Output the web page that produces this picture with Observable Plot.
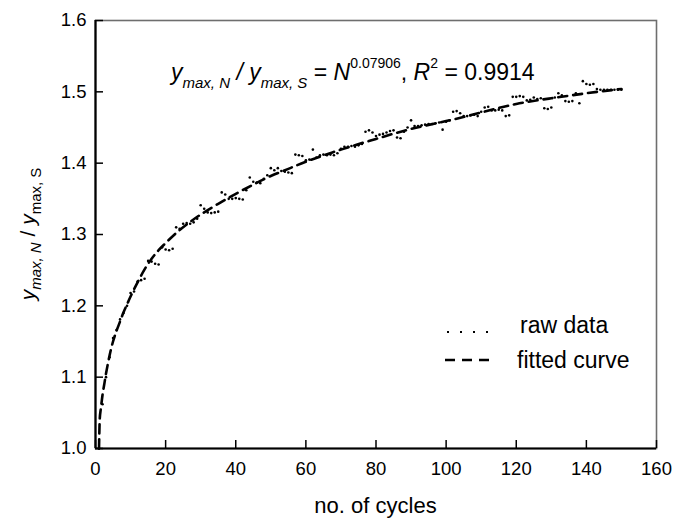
<!DOCTYPE html>
<html><head><meta charset="utf-8">
<script src="https://cdn.jsdelivr.net/npm/d3@7"></script>
<script src="https://cdn.jsdelivr.net/npm/@observablehq/plot@0.6"></script>
<style>
body{margin:0;background:#fff;font-family:Arial,"Liberation Sans",sans-serif}
</style>
</head><body><div id="chart"></div>
<script>
// ---- data ----
const rawCycles = [1,2,3,4,5,6,7,8,9,10,11,12,13,14,15,16,17,18,19,20,21,22,23,24,25,26,27,28,29,30,
31,32,33,34,35,36,37,38,39,40,41,42,43,44,45,46,47,48,49,50,51,52,53,54,55,56,57,58,59,60,
61,62,63,64,65,66,67,68,69,70,71,72,73,74,75,76,77,78,79,80,81,82,83,84,85,86,87,88,89,90,
91,92,93,94,95,96,97,98,99,100,101,102,103,104,105,106,107,108,109,110,111,112,113,114,115,116,117,118,119,120,
121,122,123,124,125,126,127,128,129,130,131,132,133,134,135,136,137,138,139,140,141,142,143,144,145,146,147,148,149,150];
const rawRatio = [1.000,1.062,1.100,1.128,1.155,1.166,1.181,1.190,1.200,1.218,1.220,1.234,1.236,1.238,1.263,1.262,1.259,1.258,1.282,1.279,
1.278,1.280,1.310,1.308,1.315,1.316,1.315,1.317,1.322,1.341,1.336,1.331,1.330,1.331,1.332,1.359,1.356,1.350,1.350,1.351,
1.350,1.349,1.362,1.380,1.374,1.373,1.372,1.378,1.383,1.393,1.390,1.393,1.389,1.388,1.387,1.386,1.412,1.411,1.410,1.404,
1.405,1.419,1.408,1.411,1.412,1.411,1.412,1.411,1.414,1.420,1.423,1.423,1.424,1.423,1.425,1.427,1.444,1.446,1.443,1.438,
1.440,1.441,1.443,1.445,1.446,1.436,1.435,1.444,1.450,1.460,1.452,1.452,1.453,1.454,1.455,1.455,1.456,1.457,1.447,1.458,
1.460,1.472,1.473,1.470,1.466,1.466,1.467,1.468,1.466,1.472,1.478,1.479,1.474,1.474,1.475,1.474,1.466,1.467,1.493,1.493,
1.494,1.493,1.488,1.489,1.492,1.490,1.491,1.477,1.476,1.478,1.492,1.498,1.495,1.487,1.486,1.487,1.498,1.484,1.515,1.511,
1.510,1.511,1.504,1.503,1.503,1.503,1.503,1.503,1.503,1.503];

const fitCycles = [1,1.2,1.5,2,2.5,3,4,5,6,7,8,9,10,12,14,16,18,20,23,26,30,35,40,45,50,55,60,70,80,90,100,110,120,130,140,150];
const fitRatio  = [1.000,1.040,1.055,1.075,1.090,1.105,1.130,1.150,1.165,1.178,1.191,1.202,1.213,1.233,1.251,1.266,1.278,1.288,1.302,1.314,
1.328,1.343,1.357,1.370,1.382,1.392,1.402,1.419,1.434,1.448,1.459,1.471,1.483,1.491,1.498,1.504];

const xTicks = [0,20,40,60,80,100,120,140,160];
const yTicks = [1.0,1.1,1.2,1.3,1.4,1.5,1.6];
const xTitle = "no. of cycles";
const legendLabels = ["raw data","fitted curve"];

const raw = rawCycles.map((c,i)=>({c, v: rawRatio[i]}));
const fit = fitCycles.map((c,i)=>({c, v: fitRatio[i]}));

// ---- layout ----
const W = 675, H = 521;
const mL = 95, mR = 19, mT = 20, mB = 73;
const innerW = W - mL - mR, innerH = H - mT - mB;

const plot = Plot.plot({
  width: W, height: H,
  marginLeft: mL, marginRight: mR, marginTop: mT, marginBottom: mB,
  x: {domain: [0,160]},
  y: {domain: [1.0,1.6]},
  style: {fontFamily: "Arial, 'Liberation Sans', sans-serif", fontSize: "18px", color: "#000", background: "#fff", overflow: "visible"},
  marks: [
    Plot.frame({stroke: "#6e6e6e", strokeWidth: 1.6}),
    Plot.ruleX(xTicks, {x: d=>d, insetTop: innerH - 8, stroke: "#000", strokeWidth: 1.5}),
    Plot.ruleY(yTicks, {y: d=>d, insetRight: innerW - 8, stroke: "#000", strokeWidth: 1.5}),
    Plot.ruleX([0], {stroke: "#000", strokeWidth: 2.2}),
    Plot.ruleY([1.0], {stroke: "#000", strokeWidth: 2.2}),
    Plot.axisX({ticks: xTicks, tickSize: 0, tickPadding: 13, tickFormat: d=>String(d), label: null, fontSize: 18.5}),
    Plot.axisY({ticks: yTicks, tickSize: 0, tickPadding: 9, tickFormat: d=>d.toFixed(1), label: null, fontSize: 18.5}),
    Plot.dot(raw, {x: "c", y: "v", r: 1.3, fill: "#000", stroke: "none"}),
    Plot.line(fit, {x: "c", y: "v", stroke: "#000", strokeWidth: 2.6, strokeDasharray: "9,6", curve: "natural"})
  ]
});
document.getElementById("chart").appendChild(plot);

const svg = d3.select(plot);
const F = "Arial, 'Liberation Sans', sans-serif";

// equation annotation
const eq = svg.append("text").attr("x", 171).attr("y", 80).attr("text-anchor","start")
  .attr("font-family", F).attr("font-size", 23).attr("fill", "#000");
eq.append("tspan").attr("font-style","italic").text("y");
eq.append("tspan").attr("font-style","italic").attr("font-size",15).attr("dy",8).text("max, N");
eq.append("tspan").attr("font-style","italic").attr("dy",-8).text(" / y");
eq.append("tspan").attr("font-style","italic").attr("font-size",15).attr("dy",8).text("max, S");
eq.append("tspan").attr("dy",-8).text(" = ");
eq.append("tspan").attr("font-style","italic").text("N");
eq.append("tspan").attr("font-size",14).attr("dy",-12).text("0.07906");
eq.append("tspan").attr("dy",12).text(", ");
eq.append("tspan").attr("font-style","italic").text("R");
eq.append("tspan").attr("font-size",14).attr("dy",-12).text("2");
eq.append("tspan").attr("dy",12).text(" = 0.9914");

// y axis title
const yt = svg.append("text").attr("transform","translate(35,234) rotate(-90)").attr("text-anchor","middle")
  .attr("font-family", F).attr("font-size", 21).attr("fill","#000");
yt.append("tspan").attr("font-style","italic").text("y");
yt.append("tspan").attr("font-style","italic").attr("font-size",15).attr("dy",6).text("max, N");
yt.append("tspan").attr("dy",-6).text(" / ");
yt.append("tspan").attr("font-style","italic").text("y");
yt.append("tspan").attr("font-size",15).attr("dy",6).text("max, S");

// x axis title
svg.append("text").attr("x", mL + innerW/2).attr("y", 513).attr("text-anchor","middle")
  .attr("font-family", F).attr("font-size", 22).attr("fill","#000").text(xTitle);

// legend
const lg = svg.append("g").attr("font-family", F).attr("font-size", 23).attr("fill","#000");
lg.append("line").attr("x1",447).attr("x2",490).attr("y1",332).attr("y2",332)
  .attr("stroke","#000").attr("stroke-width",2).attr("stroke-dasharray","2,11");
lg.append("text").attr("x",520).attr("y",333).attr("text-anchor","start").text(legendLabels[0]);
lg.append("line").attr("x1",445).attr("x2",490).attr("y1",360).attr("y2",360)
  .attr("stroke","#000").attr("stroke-width",2.5).attr("stroke-dasharray","10,7");
lg.append("text").attr("x",517).attr("y",368).attr("text-anchor","start").text(legendLabels[1]);
</script>
</body></html>
